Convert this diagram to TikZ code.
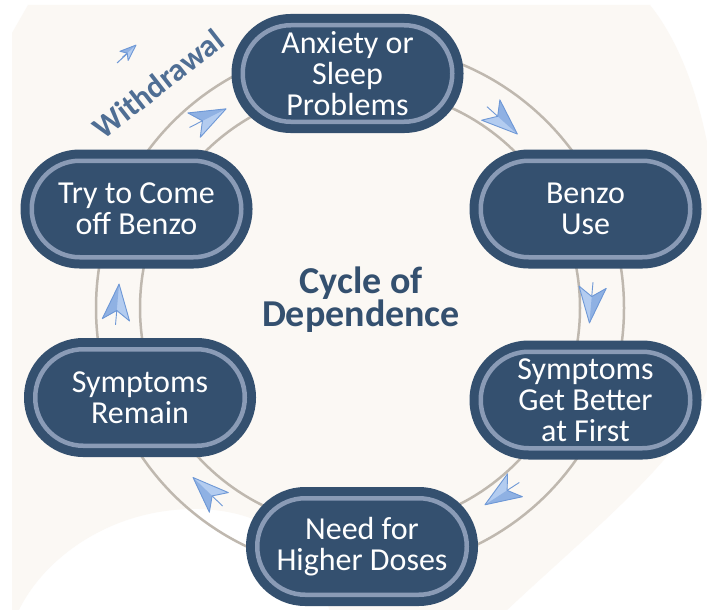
\documentclass[tikz,border=0pt]{standalone}
\usepackage{fontspec}
\setmainfont{Carlito}
\definecolor{navy}{HTML}{34506F}
\definecolor{ringlight}{HTML}{8A9BB6}
\definecolor{cream}{HTML}{FBF8F4}
\definecolor{track}{HTML}{BFB8AF}
\definecolor{arrfill}{HTML}{B3CCF0}
\definecolor{arrdark}{HTML}{8FB1E3}
\definecolor{arredge}{HTML}{6E98D6}
\definecolor{wdcol}{HTML}{4F6E94}
\tikzset{
  stage/.style={rectangle, rounded corners=48pt, minimum width=209.5pt, minimum height=96.5pt,
    inner sep=0pt, fill=navy, draw=navy, line width=9pt, double=ringlight, double distance=4.5pt,
    text=white, align=center, font=\fontsize{32}{31}\selectfont},
  trackline/.style={draw=track, line width=2.5pt},
  pics/chev/.style={code={
    \fill[arrfill] (#1:18) -- (#1+142.6:22.5) -- (#1+180:8.5) -- (#1-142.6:22.5) -- cycle;
    \fill[arrdark] (#1:18) -- (#1-142.6:22.5) -- (#1+180:8.5) -- cycle;
    \draw[arredge, line width=0.9pt, line join=round] (#1:18) -- (#1+142.6:22.5) -- (#1+180:8.5) -- (#1-142.6:22.5) -- cycle;
    \draw[arredge, line width=0.9pt] (#1+180:8.5) -- (#1+180:23);
  }}
}
\begin{document}
\begin{tikzpicture}[x=1pt,y=-1pt]
\useasboundingbox (0,0) rectangle (707,610);
\clip (0,0) rectangle (707,610);
\fill[white] (0,0) rectangle (707,610);
% background blob
\fill[cream] (12,33) -- (28,5) -- (650,5) .. controls (690,55) and (722,150) .. (720,300)
  .. controls (718,390) and (695,425) .. (662,462) .. controls (620,510) and (560,560) .. (505,612)
  -- (330,612) .. controls (310,540) and (262,511) .. (200,509) .. controls (110,507) and (42,560) .. (18,612)
  -- (12,612) -- cycle;
% ring
\coordinate (ctr) at (360,308);
\draw[trackline] (ctr) circle[radius=264];
\draw[trackline] (ctr) circle[radius=220];
% arrows
\pic at (504,122) {chev=42};
\pic at (591,305) {chev=95};
\pic at (500,495) {chev=147};
\pic at (206,490) {chev=224};
\pic at (117.5,302) {chev=275};
\pic at (210,117) {chev=-27};
\draw[arredge, line width=1pt] (117,63) -- (129,52);
\pic[scale=0.45] at (130,50.5) {chev=-42};
% withdrawal
\node[font=\fontsize{32}{32}\selectfont\bfseries, text=wdcol, rotate=38, inner sep=0pt] (wd) at (158,84) {Withdrawal};
% nodes
\node[stage] (a) at (347.5,73.5) {Anxiety or\\Sleep\\Problems};
\node[stage] (b) at (585.5,209) {Benzo\\Use};
\node[stage] (c) at (585.5,400) {Symptoms\\Get Better\\at First};
\node[stage] (d) at (362,546.5) {Need for\\Higher Doses};
\node[stage] (e) at (140,397.5) {Symptoms\\Remain};
\node[stage] (f) at (136.5,209) {Try to Come\\off Benzo};
\node[font=\fontsize{38}{33}\selectfont\bfseries, text=navy, align=center] (title) at (361,300) {Cycle of\\Dependence};
\end{tikzpicture}
\end{document}
